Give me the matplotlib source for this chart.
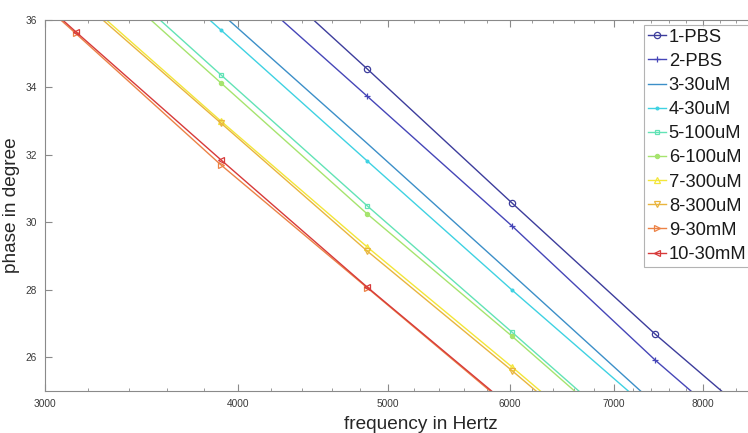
import matplotlib
matplotlib.use("Agg")
import matplotlib.pyplot as plt
import numpy as np
from matplotlib.ticker import FixedLocator, NullFormatter, FixedFormatter

plt.rcParams['font.family'] = ['Liberation Sans', 'DejaVu Sans']

freqs = [2531, 3141, 3900, 4849, 6018, 7450, 9245]

labels = ['1-PBS', '2-PBS', '3-30uM', '4-30uM', '5-100uM', '6-100uM',
          '7-300uM', '8-300uM', '9-30mM', '10-30mM']

s1 = [46.4, 42.4, 38.5, 34.55, 30.57, 26.68, 23.0]
s2 = [45.4, 41.5, 37.6, 33.74, 29.89, 25.91, 22.2]
s3 = [43.9, 40.05, 36.2, 32.34, 28.46, 24.6, 20.9]
s4 = [43.4, 39.55, 35.70, 31.82, 27.99, 24.3, 20.6]
s5 = [42.1, 38.25, 34.37, 30.49, 26.74, 23.0, 19.4]
s6 = [41.85, 38.0, 34.13, 30.25, 26.62, 22.9, 19.3]
s7 = [40.65, 36.8, 33.0, 29.27, 25.71, 22.1, 18.6]
s8 = [40.55, 36.7, 32.94, 29.15, 25.6, 22.0, 18.5]
s9 = [39.45, 35.6, 31.70, 28.06, 24.45, 20.9, 17.4]
s10 = [39.5, 35.65, 31.85, 28.08, 24.49, 20.9, 17.4]
series = [s1, s2, s3, s4, s5, s6, s7, s8, s9, s10]

colors = ['#3d3d9c', '#4646b8', '#3c8fc8', '#3fd2e2', '#62e3b6',
          '#a6e46e', '#f3e63a', '#e9b53e', '#ec8246', '#d73a3a']
markers = ['o', '+', None, '.', 's', 'o', '^', 'v', '>', '<']
msizes = [4.5, 4, 0, 4, 3, 3, 4, 4, 4, 4]
filled = [False, False, False, True, False, True, False, False, False, False]

xticks = [3000, 4000, 5000, 6000, 7000, 8000]
yticks = [26, 28, 30, 32, 34, 36]

fig = plt.figure(figsize=(7.48, 4.33), dpi=100)
W, H = 748, 433
left_px, right_px, top_px, bot_px = 45, 797, 20, 391
ax = fig.add_axes([left_px / W, 1 - bot_px / H, (right_px - left_px) / W, (bot_px - top_px) / H])

for ys, lab, c, m, ms, f in zip(series, labels, colors, markers, msizes, filled):
    kw = dict(color=c, lw=1.0, label=lab)
    if m is not None:
        kw.update(marker=m, markersize=ms, markeredgewidth=0.9,
                  markerfacecolor=(c if f else 'none'), markeredgecolor=c)
    ax.plot(freqs, ys, **kw)

ax.set_xscale('log')
ax.set_xlim(3000, 9200)
ax.set_ylim(25, 36)
ax.xaxis.set_major_locator(FixedLocator(xticks))
ax.xaxis.set_major_formatter(FixedFormatter([str(t) for t in xticks]))
ax.xaxis.set_minor_locator(FixedLocator([v for v in range(3200, 9200, 200) if v % 1000 != 0]))
ax.xaxis.set_minor_formatter(NullFormatter())
ax.set_yticks(yticks)
ax.set_yticklabels([str(t) for t in yticks])

spine_c = '#8a8a8a'
for sp in ax.spines.values():
    sp.set_color(spine_c)
    sp.set_linewidth(0.8)
ax.tick_params(which='both', direction='in', top=True, right=True, colors=spine_c,
               labelcolor='#3a3a3a', labelsize=7.3)
ax.tick_params(which='major', length=5, width=0.8, pad=6)
ax.tick_params(which='minor', length=2.5, width=0.6)

ax.set_xlabel('frequency in Hertz', fontsize=13.7, color='#262626', labelpad=5)
ax.set_ylabel('phase in degree', fontsize=13.7, color='#262626', labelpad=4)

leg = fig.legend(loc='upper left', bbox_to_anchor=(644 / W, 1 - 25 / H),
                 fontsize=13.2, frameon=True, fancybox=False, borderpad=0.2,
                 labelspacing=0.39, handlelength=1.0, handletextpad=0.15,
                 borderaxespad=0)
leg.get_frame().set_edgecolor('#a0a0a0')
leg.get_frame().set_linewidth(0.8)
for t in leg.get_texts():
    t.set_color('#1a1a1a')

fig.savefig('out.png', dpi=100)
